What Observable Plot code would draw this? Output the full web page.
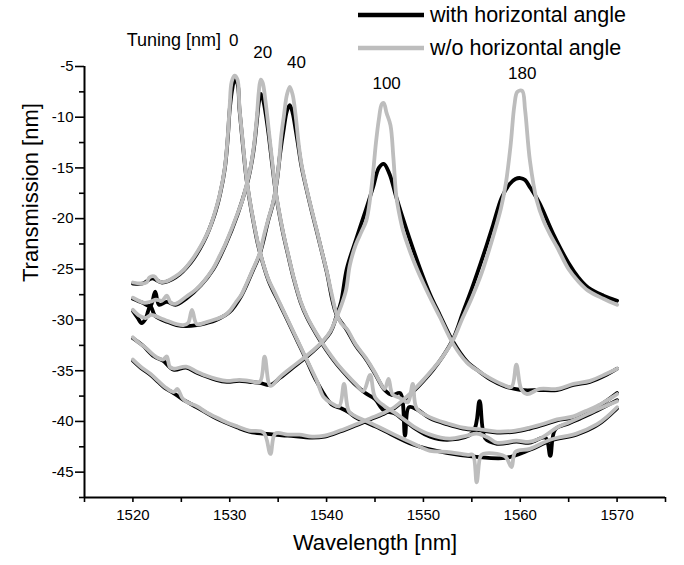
<!DOCTYPE html>
<html><head><meta charset="utf-8">
<script src="https://cdn.jsdelivr.net/npm/d3@7"></script>
<script src="https://cdn.jsdelivr.net/npm/@observablehq/plot@0.6"></script>
<style>
html,body{margin:0;padding:0;background:#fff;}
#wrap{position:relative;width:684px;height:565px;font-family:"Liberation Sans",Arial,sans-serif;color:#000;}
#legend{position:absolute;left:358px;top:0;}
.row{position:absolute;left:0;height:30px;display:flex;align-items:center;white-space:nowrap;font-size:21.5px;}
.row svg{margin-right:6px;}
</style></head><body>
<div id="wrap"><div id="chart"></div><div id="legend"></div></div>
<script>
// ---- data (wavelength nm, transmission) ----
const wo0 = [[1520,-26.3],[1520.8,-26.4],[1521.4,-26.3],[1521.7,-25.8],[1522.2,-25.7],[1522.7,-26.2],[1523.4,-26.2],[1524.4,-25.7],[1525.3,-25.0],[1526,-24.2],[1526.7,-23.2],[1527.3,-22.2],[1527.9,-21],[1528.4,-19.6],[1529,-17.5],[1529.5,-14.9],[1529.8,-11.8],[1530,-8.8],[1530.2,-6.5],[1530.5,-5.9],[1530.8,-6.3],[1531,-9],[1531.3,-12],[1531.7,-15.8],[1532,-17.8],[1532.5,-20.5],[1533,-22.8],[1533.5,-24.6],[1534,-26],[1534.6,-27.2],[1535.2,-28.4],[1536,-30],[1537,-32],[1538,-34],[1539,-36],[1539.7,-37.6],[1540.5,-38.2],[1541.3,-38.5],[1541.8,-36.3],[1542.3,-39],[1543,-39.5],[1544.2,-40],[1545.5,-40.6],[1547,-41.3],[1549,-42.2],[1550.7,-42.9],[1552.4,-43],[1554.6,-43.3],[1555.1,-43.3],[1555.5,-46],[1555.9,-43.4],[1556.2,-43.2],[1557.6,-43.2],[1558.5,-43.5],[1559.1,-44.5],[1559.5,-43],[1561,-42.7],[1563.1,-41.8],[1565.8,-41.2],[1567.9,-40.3],[1569,-39.5],[1570,-38.6]];
const with0 = [[1520,-26.4],[1521,-26.4],[1522,-25.9],[1523,-26.3],[1524.4,-25.8],[1526,-24.3],[1527.3,-22.3],[1528.4,-19.7],[1529,-17.6],[1529.5,-15],[1529.8,-12],[1530,-9.2],[1530.3,-7],[1530.5,-6.3],[1530.8,-6.7],[1531,-9.2],[1531.3,-12.2],[1531.7,-15.9],[1532,-17.9],[1532.5,-20.6],[1533,-22.9],[1534,-26.1],[1535.2,-28.5],[1536,-30.1],[1537,-32.1],[1538,-34.1],[1539,-36.1],[1540.5,-38.3],[1541.5,-38.7],[1542.3,-39.1],[1543,-39.6],[1545.5,-40.7],[1549,-42.3],[1552.4,-43.1],[1555.5,-43.5],[1558.5,-43.6],[1561,-42.8],[1563.1,-41.9],[1565.8,-41.3],[1567.9,-40.4],[1570,-38.7]];
const wo20 = [[1520,-27.8],[1520.6,-28.1],[1521.2,-28.3],[1521.8,-28.2],[1522.4,-28.0],[1523,-28.1],[1523.5,-27.6],[1523.9,-28.3],[1524.4,-28.4],[1525.5,-27.7],[1526.5,-27.0],[1527.4,-26.1],[1528.3,-24.9],[1529,-23.6],[1529.6,-22.4],[1530.2,-21.0],[1530.8,-19.5],[1531.3,-18.2],[1531.7,-16.8],[1532.1,-15.2],[1532.5,-12.8],[1532.8,-10],[1533,-7.5],[1533.2,-6.3],[1533.4,-6.6],[1533.7,-8.5],[1534,-11],[1534.4,-14.5],[1534.7,-17],[1535,-18.8],[1535.5,-21.3],[1536,-23.4],[1536.6,-25.8],[1537.3,-28.1],[1538,-29.7],[1539,-31.4],[1540,-32.9],[1541,-34.2],[1542,-35.3],[1543,-36.3],[1543.8,-37],[1544.5,-35.4],[1545,-37.6],[1546,-38.5],[1547,-39.1],[1548,-39.8],[1549,-40.5],[1550.7,-41.3],[1552.7,-41.7],[1554.5,-41.4],[1555.5,-41.2],[1556.7,-41.6],[1557.6,-42.1],[1559.6,-41.9],[1561,-42],[1562.4,-41.5],[1563.8,-40.6],[1565,-40.1],[1566.2,-39.6],[1568,-38.8],[1570,-38]];
const with20 = [[1520,-27.9],[1521,-28.3],[1521.8,-28.6],[1522.3,-27.2],[1522.7,-28.5],[1523.5,-28.2],[1524.4,-28.5],[1525.5,-27.9],[1527,-26.6],[1528.3,-25],[1529.6,-22.5],[1530.8,-19.6],[1531.7,-16.9],[1532.1,-15.3],[1532.5,-13],[1532.8,-10.4],[1533,-8.6],[1533.2,-7.7],[1533.4,-8.1],[1533.7,-9.6],[1534,-11.6],[1534.4,-14.8],[1534.7,-17.1],[1535,-18.9],[1535.5,-21.4],[1536,-23.5],[1536.6,-25.9],[1537.3,-28.2],[1538,-29.8],[1539,-31.5],[1540,-33],[1541,-34.3],[1542,-35.4],[1543,-36.4],[1544,-37.2],[1545,-37.8],[1545.9,-38.9],[1547,-39.2],[1548,-39.9],[1549,-40.6],[1550.7,-41.5],[1552.7,-41.8],[1555.1,-41.1],[1555.8,-38],[1556.4,-41.7],[1557.6,-42.2],[1559.6,-42],[1561,-42.1],[1562.6,-41.6],[1563.1,-43.4],[1563.6,-40.8],[1565,-40.2],[1566.2,-39.7],[1568,-38.9],[1570,-37.9]];
const wo40 = [[1520,-29.0],[1520.7,-29.6],[1521.3,-29.8],[1521.9,-29.5],[1522.8,-29.8],[1523.6,-30.1],[1524.5,-30.4],[1525.2,-30.5],[1525.7,-30.3],[1526.1,-29.0],[1526.6,-30.4],[1527.6,-30.2],[1528.6,-29.9],[1529.4,-29.6],[1530,-29.1],[1530.6,-28.3],[1531.2,-27.5],[1531.7,-26.5],[1532.3,-25.2],[1533.1,-23.4],[1533.5,-21.8],[1534,-20],[1534.5,-18.3],[1534.9,-16],[1535.1,-14.3],[1535.3,-12],[1535.6,-9.8],[1535.9,-7.8],[1536.2,-7.0],[1536.5,-7.8],[1536.8,-9.8],[1537.1,-12.5],[1537.4,-14.6],[1537.9,-16.9],[1538.5,-19.3],[1539,-21.2],[1539.5,-23.2],[1540,-25.1],[1540.5,-27.3],[1541,-29.3],[1541.5,-30.3],[1542.1,-30.9],[1543,-32.4],[1544.1,-33.8],[1545,-35.2],[1545.5,-36.1],[1546,-36.8],[1546.4,-35.8],[1546.8,-37.3],[1547.6,-37.7],[1548.4,-38.1],[1548.9,-36.3],[1549.3,-38.7],[1550.7,-39.6],[1552.5,-40.2],[1554.1,-40.6],[1556,-40.8],[1557.6,-41],[1559.5,-40.9],[1561,-40.6],[1562.5,-40.2],[1563.8,-39.8],[1565.5,-39.5],[1566.7,-39],[1567.9,-38.5],[1569,-37.9],[1570,-37.3]];
const with40 = [[1520,-29.1],[1520.5,-29.8],[1520.9,-30.3],[1521.3,-29.9],[1521.8,-28.6],[1522.3,-29.6],[1523.6,-30.2],[1524.5,-30.5],[1525.5,-30.6],[1526.6,-30.5],[1527.6,-30.3],[1528.6,-30],[1530,-29.2],[1531.2,-27.6],[1532.3,-25.3],[1533.1,-23.5],[1534,-20.1],[1534.5,-18.4],[1534.9,-16.1],[1535.2,-13.6],[1535.6,-11],[1535.9,-9.4],[1536.2,-8.8],[1536.5,-9.6],[1536.8,-11.2],[1537.1,-13],[1537.4,-14.8],[1537.9,-17],[1538.5,-19.4],[1539,-21.3],[1540,-25.2],[1541,-29.4],[1542.1,-31],[1543,-32.5],[1544.1,-33.9],[1545,-35.3],[1546,-36.9],[1546.8,-37.4],[1547.6,-37.2],[1548.1,-41.4],[1548.5,-38.6],[1549.3,-38.8],[1550.7,-39.7],[1552.5,-40.3],[1554.1,-40.7],[1556,-40.9],[1557.6,-41.1],[1559.5,-41],[1561,-40.7],[1562.5,-40.3],[1563.8,-39.9],[1565.5,-39.6],[1567.9,-38.6],[1570,-37.2]];
const wo100 = [[1520,-31.7],[1520.7,-32.3],[1521.4,-32.8],[1522.2,-33.5],[1523.1,-33.9],[1523.5,-33.6],[1523.8,-34.6],[1524.2,-34.8],[1525.5,-34.6],[1526.6,-35.1],[1527.6,-35.5],[1528.6,-35.8],[1529.7,-36],[1531,-35.9],[1532,-36],[1533.1,-36.1],[1533.6,-33.6],[1534.2,-36.5],[1535.2,-35.6],[1536.9,-34.3],[1538.6,-33],[1539.6,-32.1],[1540.4,-31.1],[1541,-29.8],[1541.5,-28.6],[1542,-27.1],[1542.4,-24.6],[1543,-22.6],[1543.6,-21.3],[1544.1,-20.2],[1544.5,-18],[1544.8,-15.5],[1545.1,-12.5],[1545.4,-10.2],[1545.7,-8.7],[1545.9,-8.6],[1546.2,-9.6],[1546.6,-10.8],[1546.9,-14],[1547.2,-17.8],[1547.5,-19.5],[1547.9,-21.2],[1548.6,-23.2],[1549.3,-24.9],[1550,-26.4],[1550.7,-27.8],[1551.7,-29.7],[1553.1,-32.4],[1554.5,-34.2],[1555.8,-35.1],[1557,-35.8],[1558.3,-36.4],[1559.1,-36.6],[1559.6,-34.4],[1560.1,-36.8],[1560.7,-37.3],[1562,-36.8],[1563.8,-36.8],[1565.5,-36.3],[1567.2,-36],[1568.9,-35.3],[1570,-34.8]];
const with100 = [[1520,-31.8],[1521,-32.5],[1522.2,-33.6],[1523.1,-34],[1524.2,-34.9],[1525.5,-34.7],[1526.6,-35.2],[1528.6,-35.9],[1529.7,-36.1],[1531,-36],[1532,-36.1],[1533.1,-36.2],[1534.2,-36.4],[1535.2,-35.7],[1536.9,-34.4],[1538.6,-33.1],[1540.4,-31.2],[1541,-29.7],[1541.5,-28.2],[1542.1,-24.9],[1543.1,-21.9],[1544.1,-19],[1544.8,-16.9],[1545.4,-15],[1545.9,-14.6],[1546.5,-15.6],[1547.2,-17.9],[1548.3,-21.2],[1549.6,-24.8],[1550.7,-27.5],[1551.7,-29.5],[1553.1,-32.2],[1554.5,-34.1],[1555.8,-35.1],[1557,-35.9],[1558.3,-36.5],[1560.1,-36.9],[1562,-36.9],[1563.8,-36.9],[1565.5,-36.4],[1567.2,-36.1],[1568.9,-35.4],[1570,-34.8]];
const wo180 = [[1520,-33.9],[1520.8,-34.6],[1521.8,-35.3],[1522.6,-36],[1523.3,-36.6],[1524.2,-37.1],[1524.6,-36.8],[1525.1,-37.7],[1525.6,-38.1],[1526.6,-38.5],[1527.6,-39.1],[1528.6,-39.6],[1529.7,-40.1],[1530.8,-40.5],[1532,-40.9],[1533.5,-41.1],[1534.2,-43.2],[1534.7,-41.2],[1536,-41.3],[1537.2,-41.3],[1538.5,-41.5],[1539.8,-41.4],[1541.4,-40.9],[1543,-40.3],[1544.5,-39.7],[1545.8,-39.2],[1547,-38.6],[1548,-37.8],[1549,-36.9],[1550,-35.9],[1551,-34.8],[1552,-33.6],[1553.1,-31.9],[1554,-29.9],[1555,-27.8],[1556,-25.4],[1557,-22.4],[1558,-19.0],[1558.5,-16.6],[1559,-12.8],[1559.4,-8.8],[1559.7,-7.5],[1560.2,-7.4],[1560.5,-9.3],[1561,-14.3],[1561.7,-18.2],[1562.4,-20.2],[1563.1,-21.6],[1563.8,-22.8],[1565,-25],[1566,-26.2],[1567,-27.1],[1568.6,-27.9],[1570,-28.5]];
const with180 = [[1520,-34],[1520.8,-34.7],[1521.8,-35.4],[1522.6,-36.1],[1523.3,-36.7],[1524.2,-37.2],[1525.1,-37.8],[1526.6,-38.6],[1528.6,-39.7],[1530.8,-40.6],[1532,-41],[1533.5,-41.2],[1536,-41.4],[1538.5,-41.6],[1539.8,-41.5],[1541.4,-41],[1543,-40.4],[1544.5,-39.8],[1545.8,-39.3],[1547,-38.7],[1548,-37.9],[1549,-37],[1550,-36],[1551,-34.9],[1552,-33.6],[1553.1,-31.8],[1554.1,-29.2],[1555,-26.9],[1555.8,-24.7],[1556.5,-22.7],[1557.2,-20.6],[1558.1,-17.9],[1558.9,-16.6],[1559.5,-16.1],[1560,-16],[1560.5,-16.2],[1561,-16.9],[1562,-18.5],[1563.4,-21.5],[1565,-24.4],[1566,-25.8],[1567,-26.8],[1568.6,-27.6],[1570,-28.1]];

const tunings = [0, 20, 40, 100, 180];
const withCurves = [with0, with20, with40, with100, with180];
const woCurves = [wo0, wo20, wo40, wo100, wo180];

const peakLabels = ["0", "20", "40", "100", "180"];
const peakLabelX = [1530.4, 1533.4, 1536.9, 1546.2, 1560.2];
const peakLabelY = [-2.4, -3.6, -4.6, -6.7, -5.7];
const tuningTitle = ["Tuning [nm]"];
const tuningTitleX = [1529.1];
const tuningTitleY = [-2.4];

const legendLabels = ["with horizontal angle", "w/o horizontal angle"];
const xMajor = [1520, 1530, 1540, 1550, 1560, 1570];
const xMinor = [1515, 1525, 1535, 1545, 1555, 1565, 1575];
const yMajor = [-45, -40, -35, -30, -25, -20, -15, -10, -5];
const yMinor = [-47.5, -42.5, -37.5, -32.5, -27.5, -22.5, -17.5, -12.5, -7.5];
const xDomain = [1515, 1575];
const yDomain = [-47.5, -5];

// ---- styles ----
const BLACK = "#000000";
const GRAY = "#bdbdbd";

// ---- build tables ----
function rowsOf(curves, series) {
  const out = [];
  curves.forEach((c, i) => c.forEach(([x, y]) => out.push({series, tuning: tunings[i], x, y})));
  return out;
}
const withRows = rowsOf(withCurves, "with");
const woRows = rowsOf(woCurves, "w/o");
const peakRows = peakLabels.map((t, i) => ({t, x: peakLabelX[i], y: peakLabelY[i]}));
const titleRows = tuningTitle.map((t, i) => ({t, x: tuningTitleX[i], y: tuningTitleY[i]}));

const chart = Plot.plot({
  width: 684, height: 565,
  marginLeft: 84, marginRight: 19, marginTop: 66, marginBottom: 68,
  style: {fontFamily: "'Liberation Sans', Arial, sans-serif", fontSize: "15px", color: "#000", background: "#fff"},
  x: {domain: xDomain},
  y: {domain: yDomain},
  marks: [
    Plot.line(withRows, {x: "x", y: "y", z: "tuning", stroke: BLACK, strokeWidth: 3.8, curve: "catmull-rom"}),
    Plot.line(woRows, {x: "x", y: "y", z: "tuning", stroke: GRAY, strokeWidth: 3.8, curve: "catmull-rom"}),
    Plot.axisY(yMajor, {tickSize: 9, tickPadding: 2, tickFormat: d => String(d), fontSize: 15, label: null, strokeWidth: 1.6}),
    Plot.axisY(yMinor, {tickSize: 5, tickFormat: () => "", label: null, strokeWidth: 1.6}),
    Plot.axisX(xMajor, {tickSize: 5, tickPadding: 7, tickFormat: d => String(d), fontSize: 15, label: null, strokeWidth: 1.6}),
    Plot.axisX(xMinor, {tickSize: 5, tickFormat: () => "", label: null, strokeWidth: 1.6}),
    Plot.ruleX([xDomain[0]], {stroke: "#000", strokeWidth: 2}),
    Plot.ruleY([yDomain[0]], {stroke: "#000", strokeWidth: 2}),
    Plot.text(peakRows, {x: "x", y: "y", text: "t", fontSize: 17}),
    Plot.text(titleRows, {x: "x", y: "y", text: "t", fontSize: 18, textAnchor: "end"}),
    Plot.text(["Wavelength [nm]"], {frameAnchor: "bottom", dy: 52, fontSize: 22}),
    Plot.text(["Transmission [nm]"], {frameAnchor: "left", dx: -54, rotate: -90, fontSize: 22})
  ]
});
document.getElementById("chart").appendChild(chart);

// legend
const legendColors = [BLACK, GRAY];
const legendTops = [0, 33];
const leg = document.getElementById("legend");
legendLabels.forEach((lab, i) => {
  const row = document.createElement("div");
  row.className = "row";
  row.style.top = legendTops[i] + "px";
  row.innerHTML = `<svg width="66" height="10"><line x1="0" y1="5" x2="66" y2="5" stroke="${legendColors[i]}" stroke-width="4.5"/></svg><span>${lab}</span>`;
  leg.appendChild(row);
});
</script>
</body></html>
